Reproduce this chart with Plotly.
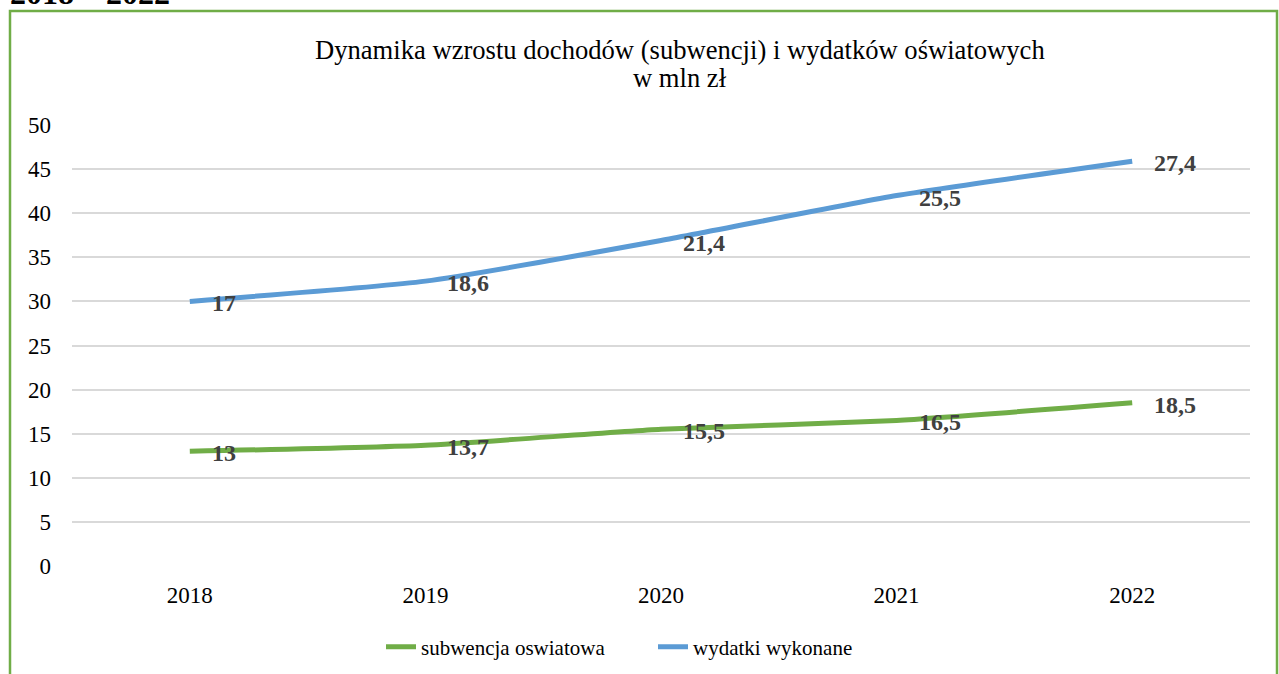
import plotly.graph_objects as go
import numpy as np

years = ["2018", "2019", "2020", "2021", "2022"]
subwencja = [13, 13.7, 15.5, 16.5, 18.5]
wydatki = [17, 18.6, 21.4, 25.5, 27.4]
y_ticks = [0, 5, 10, 15, 20, 25, 30, 35, 40, 45, 50]
title_lines = ["Dynamika wzrostu dochodów (subwencji) i wydatków oświatowych", "w mln zł"]

GREEN = "#70AD47"
BLUE = "#5B9BD5"
FONT = "'Liberation Serif', 'Times New Roman', Times, serif"

# stacked line chart
stack_green = np.array(subwencja)
stack_blue = stack_green + np.array(wydatki)

def fmt(v):
    return ("%g" % v).replace(".", ",")

W, H = 1279, 674
L, R, T, B = 72, 29, 125, 108
pw, ph = W - L - R, H - T - B

def px_to_paper_x(px):
    return (px - L) / pw

def px_to_paper_y(py):
    return (H - B - py) / ph

fig = go.Figure()
fig.add_trace(go.Scatter(
    x=years, y=stack_green, mode="lines", name="subwencja oswiatowa",
    line=dict(color=GREEN, width=5, shape="spline", smoothing=0.5),
))
fig.add_trace(go.Scatter(
    x=years, y=stack_blue, mode="lines", name="wydatki wykonane",
    line=dict(color=BLUE, width=5, shape="spline", smoothing=0.5),
))

annotations = []
for series_y, series_v in ((stack_green, subwencja), (stack_blue, wydatki)):
    for i, (yv, v) in enumerate(zip(series_y, series_v)):
        annotations.append(dict(x=i, y=float(yv), xref="x", yref="y", text="<b>%s</b>" % fmt(v),
                                showarrow=False, xanchor="left", yanchor="middle", xshift=20, yshift=-2,
                                font=dict(family=FONT, size=24, color="#404040")))

for line_text, py in zip(title_lines, (50, 78)):
    annotations.append(dict(
        x=px_to_paper_x(680), y=px_to_paper_y(py), xref="paper", yref="paper",
        text=line_text, showarrow=False, xanchor="center", yanchor="middle",
        font=dict(family=FONT, size=26.6, color="#000000"),
    ))
annotations.append(dict(
    x=px_to_paper_x(8), y=px_to_paper_y(13), xref="paper", yref="paper",
    text="<b>2018 – 2022</b>", showarrow=False, xanchor="left", yanchor="bottom",
    font=dict(family=FONT, size=32, color="#000000"),
))

fig.update_layout(
    width=W, height=H,
    margin=dict(l=L, r=R, t=T, b=B, autoexpand=False),
    paper_bgcolor="white", plot_bgcolor="white",
    font=dict(family=FONT, size=19, color="#000000"),
    showlegend=True,
    legend=dict(orientation="h", x=px_to_paper_x(381), xanchor="left",
                y=px_to_paper_y(647), yanchor="middle",
                font=dict(family=FONT, size=21, color="#000000"),
                entrywidth=227, entrywidthmode="pixels",
                bgcolor="rgba(0,0,0,0)"),
    xaxis=dict(type="category", range=[-0.5, 4.5], showgrid=False, showline=False, zeroline=False,
               automargin=False,
               ticks="", ticklabelstandoff=13, tickfont=dict(family=FONT, size=23, color="#000000")),
    yaxis=dict(range=[0, 50], tickvals=y_ticks, showgrid=True, gridcolor="#D9D9D9", gridwidth=2,
               zeroline=False, showline=False, ticks="", ticklabelstandoff=20, automargin=False,
               tickfont=dict(family=FONT, size=23, color="#000000")),
    annotations=annotations,
    shapes=[dict(type="rect", xref="paper", yref="paper",
                 x0=px_to_paper_x(10), x1=px_to_paper_x(1277),
                 y0=px_to_paper_y(700), y1=px_to_paper_y(11),
                 line=dict(color=GREEN, width=2.5), fillcolor="rgba(0,0,0,0)", layer="below")],
)

fig.write_html("out.html", config={"displayModeBar": False},
               post_script="document.body.style.margin='0';document.body.style.overflow='hidden';")
